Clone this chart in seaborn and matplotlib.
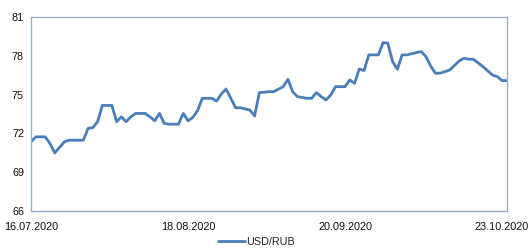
import matplotlib
matplotlib.use("Agg")
import matplotlib.pyplot as plt
import matplotlib.dates as mdates
import pandas as pd
import seaborn as sns

# USD/RUB rate
dates = ["2020-07-16", "2020-07-17", "2020-07-19", "2020-07-20", "2020-07-21",
         "2020-07-23", "2020-07-24", "2020-07-27", "2020-07-28", "2020-07-29",
         "2020-07-30", "2020-07-31", "2020-08-02", "2020-08-03", "2020-08-04",
         "2020-08-05", "2020-08-06", "2020-08-07", "2020-08-09", "2020-08-10",
         "2020-08-11", "2020-08-12", "2020-08-13", "2020-08-14", "2020-08-16",
         "2020-08-17", "2020-08-18", "2020-08-19", "2020-08-20", "2020-08-21",
         "2020-08-23", "2020-08-24", "2020-08-25", "2020-08-26", "2020-08-27",
         "2020-08-28", "2020-08-29", "2020-08-31", "2020-09-01", "2020-09-02",
         "2020-09-04", "2020-09-05", "2020-09-07", "2020-09-08", "2020-09-09",
         "2020-09-10", "2020-09-12", "2020-09-13", "2020-09-14", "2020-09-15",
         "2020-09-16", "2020-09-17", "2020-09-18", "2020-09-20", "2020-09-21",
         "2020-09-22", "2020-09-23", "2020-09-24", "2020-09-25", "2020-09-27",
         "2020-09-28", "2020-09-29", "2020-09-30", "2020-10-01", "2020-10-02",
         "2020-10-03", "2020-10-06", "2020-10-07", "2020-10-08", "2020-10-09",
         "2020-10-10", "2020-10-12", "2020-10-14", "2020-10-15", "2020-10-16",
         "2020-10-17", "2020-10-19", "2020-10-21", "2020-10-22", "2020-10-23",
         "2020-10-24"]
usd_rub = [71.35, 71.74, 71.74, 71.22, 70.50,
           71.35, 71.48, 71.48, 72.39, 72.45,
           72.91, 74.17, 74.17, 72.91, 73.29,
           72.91, 73.29, 73.55, 73.55, 73.29,
           72.98, 73.55, 72.78, 72.72, 72.72,
           73.55, 72.98, 73.24, 73.76, 74.72,
           74.72, 74.51, 75.05, 75.44, 74.72,
           73.99, 73.99, 73.81, 73.35, 75.16,
           75.23, 75.23, 75.62, 76.19, 75.23,
           74.85, 74.72, 74.72, 75.16, 74.85,
           74.59, 74.97, 75.62, 75.62, 76.14,
           75.88, 76.99, 76.86, 78.08, 78.08,
           79.03, 78.98, 77.56, 76.97, 78.08,
           78.08, 78.34, 77.95, 77.22, 76.66,
           76.66, 76.91, 77.61, 77.82, 77.74,
           77.74, 77.17, 76.52, 76.40, 76.09,
           76.09]
tick_dates = ["2020-07-16", "2020-08-18", "2020-09-20", "2020-10-23"]
y_ticks = [66, 69, 72, 75, 78, 81]

df = pd.DataFrame({"Date": pd.to_datetime(dates), "Rate": usd_rub})

sns.set_style("white")
plt.rcParams["font.family"] = ["Liberation Sans", "DejaVu Sans"]

fig = plt.figure(figsize=(5.29, 2.48), dpi=100)
ax = fig.add_axes([0.0586, 0.149, 0.8994, 0.782])

sns.lineplot(x="Date", y="Rate", data=df, ax=ax, color="#4A7EBB",
             linewidth=2.0, label="USD/RUB", legend=False)

ax.set_ylim(66, 81)
ax.set_yticks(y_ticks)
ax.set_xlim(pd.Timestamp("2020-07-16"), pd.Timestamp("2020-10-24"))
ax.set_xticks(pd.to_datetime(tick_dates))
ax.xaxis.set_major_formatter(mdates.DateFormatter("%d.%m.%Y"))
ax.set(xlabel=None, ylabel=None)

for s in ax.spines.values():
    s.set_visible(True)
    s.set_color("#8EA9D2")
    s.set_linewidth(0.9)
ax.tick_params(axis="both", labelsize=7.8, colors="#111111", length=3,
               width=0.8, color="#8A8A8A", direction="out", pad=2)
ax.tick_params(axis="x", pad=5)

# legend sits at the very bottom, as in the reference
fig.legend(loc="center", bbox_to_anchor=(0.485, 0.025), frameon=False,
           fontsize=7.8, handlelength=2.5, handletextpad=0.1)

fig.savefig("out.png", dpi=100)
